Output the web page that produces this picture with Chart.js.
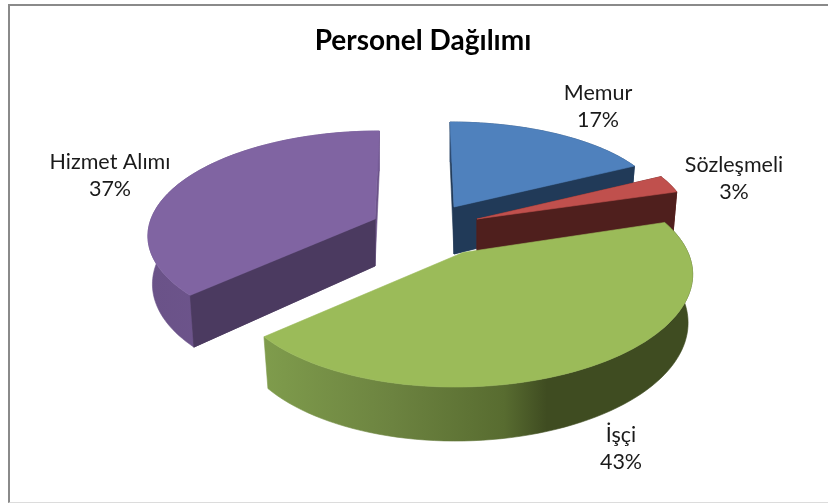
<!DOCTYPE html>
<html>
<head>
<meta charset="utf-8">
<script src="https://cdn.jsdelivr.net/npm/chart.js@4"></script>
<style>
html,body{margin:0;padding:0;background:#fff;width:828px;height:503px;overflow:hidden}
#frame{position:absolute;left:8px;top:4px;width:820px;height:499px;box-sizing:border-box;border-left:2px solid #8a8a8a;border-top:2px solid #8a8a8a;border-bottom:1px solid #dcdcdc}
#wrap{position:absolute;left:18px;top:0;width:810px;height:503px}
</style>
</head>
<body>
<div id="frame"></div>
<div id="wrap"><canvas id="c" width="810" height="503"></canvas></div>
<script>
const categories = ['Memur', 'Sözleşmeli', 'İşçi', 'Hizmet Alımı'];
const values = [17, 3, 43, 37];
const chartTitle = 'Personel Dağılımı';
const topColors = ['#4f81bd', '#c0504d', '#9bbb59', '#8064a2'];

// 3D look: explode offset from the pie centre, radii, perspective and shear per slice
const explodeX = [31, 54, 40, -48];
const explodeY = [-44.5, -32.5, 1, -32.5];
const radiusX = [208, 210, 225, 224];
const radiusY = [85, 88, 104, 100.6];
const perspective = [0, 0, 0.227, 0.143];
const shear = [4, 0, -6, -5];
const cutColors = ['#213a58', '#4f1f1d', null, '#4b3a60'];
const endCutColors = ['#2d4a70', '#6a2a28', null, '#6b5388'];
const rimStops = [
  [[0, '#2d4a70'], [1, '#2d4a70']],
  [[0, '#6a2a28'], [1, '#6a2a28']],
  [[0, '#7f9c4c'], [0.3, '#6c8340'], [0.56, '#586c30'], [0.66, '#3f4c21'], [1, '#3f4c21']],
  [[0, '#6a5288'], [1, '#745a94']]
];
const drawOrder = [0, 1, 3, 2];
const labelX = [580, 716, 603, 92];
const labelY = [93, 165, 435, 162];
const LABEL_FONT = '21.5px Lato';

function project(i, a, cx, cy, lower) {
  const u = Math.cos(a), v = Math.sin(a);
  const p = 1 / (1 - perspective[i] * v);
  let x = (radiusX[i] * u + shear[i] * v) * p;
  let y = radiusY[i] * v * p;
  if (lower) { x *= 0.98; y += 47 + 7 * v; }
  return [cx + explodeX[i] + x, cy + explodeY[i] + y];
}
function apex(i, cx, cy, lower) {
  return [cx + explodeX[i], cy + explodeY[i] + (lower ? 47 : 0)];
}
function fillPoly(ctx, pts, fill) {
  ctx.beginPath();
  pts.forEach((p, k) => k ? ctx.lineTo(p[0], p[1]) : ctx.moveTo(p[0], p[1]));
  ctx.closePath();
  ctx.fillStyle = fill;
  ctx.fill();
  ctx.strokeStyle = fill;
  ctx.lineWidth = 0.6;
  ctx.stroke();
}
const pie3d = {
  id: 'pie3d',
  beforeDatasetsDraw(chart) {
    const ctx = chart.ctx;
    const arcs = chart.getDatasetMeta(0).data;
    const cx = chart.width / 2, cy = chart.height / 2;
    drawOrder.forEach(i => {
      const arc = arcs[i];
      const s = arc.startAngle, e = arc.endAngle;
      const top = [], bot = [];
      const n = 80;
      for (let k = 0; k <= n; k++) {
        const a = s + (e - s) * k / n;
        top.push(project(i, a, cx, cy, false));
        bot.push(project(i, a, cx, cy, true));
      }
      const at = apex(i, cx, cy, false), ab = apex(i, cx, cy, true);
      if (endCutColors[i]) fillPoly(ctx, [at, top[n], bot[n], ab], endCutColors[i]);
      if (cutColors[i]) fillPoly(ctx, [at, top[0], bot[0], ab], cutColors[i]);
      const xs = top.map(p => p[0]);
      const grad = ctx.createLinearGradient(Math.min(...xs), 0, Math.max(...xs), 0);
      rimStops[i].forEach(st => grad.addColorStop(st[0], st[1]));
      fillPoly(ctx, top.concat(bot.slice().reverse()), grad);
      if (i === 3) fillPoly(ctx, [at, top[0], bot[0], ab], cutColors[i]);
      if (i === 0 || i === 1) fillPoly(ctx, [at, top[n], bot[n], ab], cutColors[i]);
      fillPoly(ctx, [at].concat(top), topColors[i]);
    });
    return false;
  },
  afterDraw(chart) {
    const ctx = chart.ctx;
    const total = values.reduce((a, b) => a + b, 0);
    ctx.save();
    ctx.font = LABEL_FONT;
    ctx.fillStyle = '#1a1a1a';
    ctx.textAlign = 'center';
    ctx.textBaseline = 'middle';
    categories.forEach((name, i) => {
      ctx.fillText(name, labelX[i], labelY[i]);
      ctx.fillText(Math.round(values[i] / total * 100) + '%', labelX[i], labelY[i] + 27);
    });
    ctx.restore();
  }
};
new Chart(document.getElementById('c'), {
  type: 'pie',
  data: {
    labels: categories,
    datasets: [{ data: values, backgroundColor: topColors, borderWidth: 0 }]
  },
  options: {
    responsive: false,
    animation: false,
    events: [],
    plugins: {
      legend: { display: false },
      tooltip: { enabled: false },
      title: {
        display: true,
        text: chartTitle,
        color: '#000',
        font: { family: 'Lato', size: 28, weight: 'bold' },
        padding: { top: 24, bottom: 8 }
      }
    }
  },
  plugins: [pie3d]
});
</script>
</body>
</html>
